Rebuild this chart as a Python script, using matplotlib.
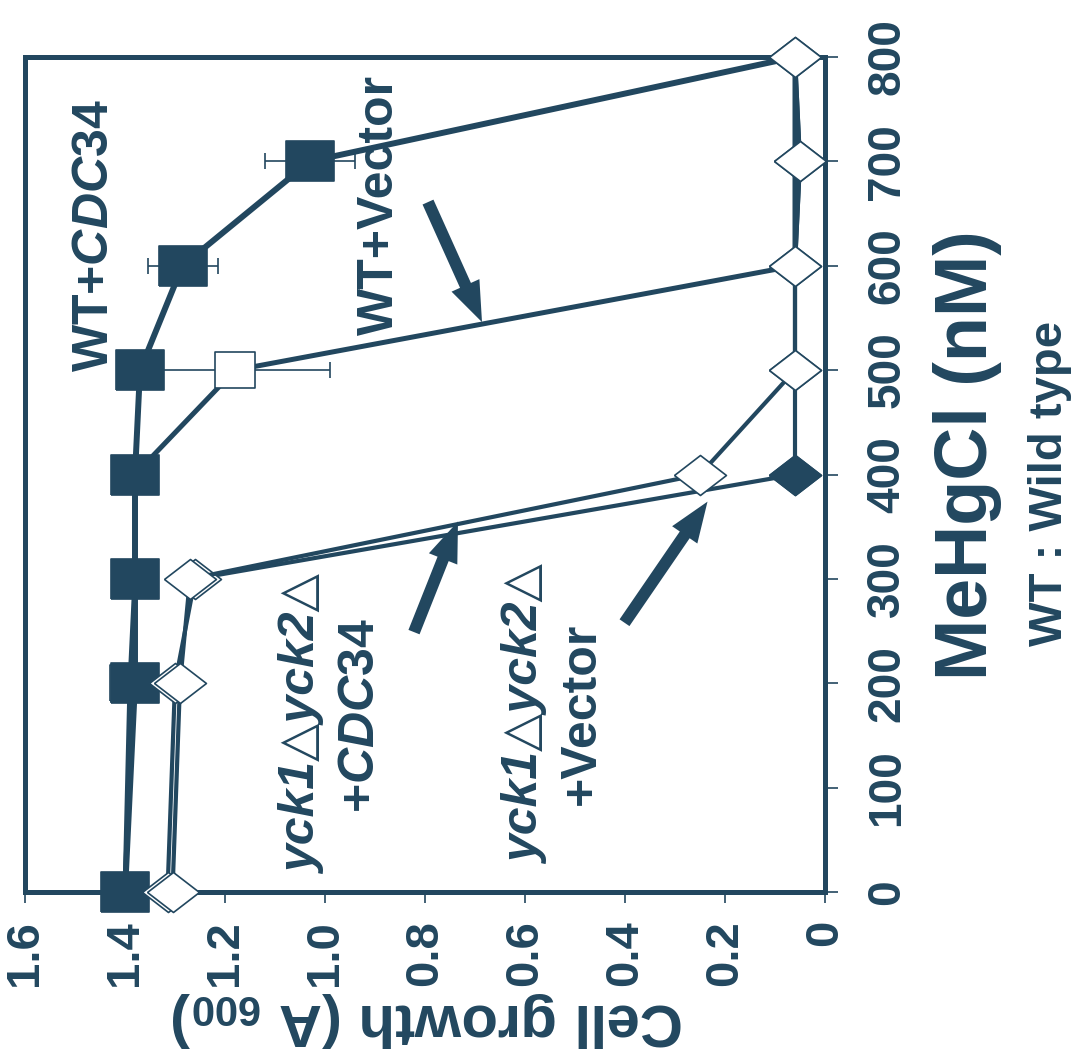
import matplotlib
matplotlib.use('Agg')
import matplotlib.pyplot as plt

NAVY = '#22475f'
SANS = ['Liberation Sans', 'DejaVu Sans']

plt.rcParams['font.family'] = SANS
plt.rcParams['mathtext.fontset'] = 'custom'
plt.rcParams['mathtext.rm'] = 'Liberation Sans:bold'
plt.rcParams['mathtext.bf'] = 'Liberation Sans:bold'
plt.rcParams['mathtext.it'] = 'Liberation Sans:italic:bold'

# data (MeHgCl nM vs cell growth A600)
conc = [0, 200, 300, 400, 500, 600, 700, 800]
wt_cdc34 = [1.40, 1.38, 1.38, 1.38, 1.37, 1.285, 1.03, 0.06]
wt_cdc34_err = [0, 0, 0, 0, 0, 0.07, 0.09, 0]
wt_vector = [1.40, 1.39, 1.38, 1.38, 1.18, 0.06, 0.06, 0.06]
wt_vector_err = [0, 0, 0, 0, 0.19, 0, 0, 0]
yck_vector = [1.315, 1.30, 1.26, 0.06, 0.06, 0.06, 0.05, 0.06]
yck_cdc34 = [1.305, 1.29, 1.27, 0.25, 0.06, 0.06, 0.05, 0.06]

growth_ticks = [1.6, 1.4, 1.2, 1.0, 0.8, 0.6, 0.4, 0.2, 0]
growth_labels = ['1.6', '1.4', '1.2', '1.0', '0.8', '0.6', '0.4', '0.2', '0']
conc_ticks = [0, 100, 200, 300, 400, 500, 600, 700, 800]

# marker shapes (picture is slightly squashed)
rect_big = [(-1, -0.85), (1, -0.85), (1, 0.85), (-1, 0.85), (-1, -0.85)]
rect_small = [(-1, -0.92), (1, -0.92), (1, 0.92), (-1, 0.92), (-1, -0.92)]
diamond = [(-1, 0), (0, -0.77), (1, 0), (0, 0.77), (-1, 0)]

fig = plt.figure(figsize=(10.81, 10.52), dpi=100)
ax = fig.add_axes([25 / 1081, 160 / 1052, 800 / 1081, 835 / 1052])

# chart is drawn turned 90 degrees: growth runs right-to-left, dose bottom-to-top
ax.set_xlim(1.6, 0)
ax.set_ylim(0, 800)

# WT + Vector (open squares), dead points carry no marker
ax.errorbar(wt_vector, conc, xerr=wt_vector_err, fmt='none', ecolor=NAVY,
            elinewidth=1.2, capsize=5.5, capthick=1.2, zorder=3, clip_on=False)
ax.plot(wt_vector, conc, color=NAVY, lw=3.6, marker=rect_small, ms=28.8,
        markevery=[0, 1, 2, 3, 4],
        mfc='white', mec=NAVY, mew=1.2, zorder=3, clip_on=False)

# WT + CDC34 (filled squares)
ax.errorbar(wt_cdc34, conc, xerr=wt_cdc34_err, fmt='none', ecolor=NAVY,
            elinewidth=1.2, capsize=5.5, capthick=1.2, zorder=3, clip_on=False)
ax.plot(wt_cdc34, conc, color=NAVY, lw=4.3, marker=rect_big, ms=34.6,
        markevery=[0, 1, 2, 3, 4, 5, 6],
        mfc=NAVY, mec=NAVY, mew=1.2, zorder=3, clip_on=False)

# yck1/yck2 + Vector
ax.plot(yck_vector, conc, color=NAVY, lw=3.0, marker=diamond, ms=37.4,
        mfc='white', mec=NAVY, mew=1.2, zorder=4, clip_on=False)
ax.plot(yck_vector, conc, linestyle='none', marker=diamond, ms=37.4,
        markevery=[3], mfc=NAVY, mec=NAVY, mew=1.2, zorder=4, clip_on=False)

# yck1/yck2 + CDC34
ax.plot(yck_cdc34, conc, color=NAVY, lw=3.0, marker=diamond, ms=37.4,
        mfc='white', mec=NAVY, mew=1.2, zorder=4, clip_on=False)

for s in ax.spines.values():
    s.set_linewidth(3.6)
    s.set_color(NAVY)

ax.set_xticks(growth_ticks)
ax.set_xticklabels(growth_labels, rotation=90, fontsize=34, fontweight='bold',
                   color=NAVY)
ax.yaxis.tick_right()
ax.set_yticks(conc_ticks)
ax.set_yticklabels([str(c) for c in conc_ticks], rotation=90, va='center',
                   fontsize=33, fontweight='bold', color=NAVY)
ax.tick_params(axis='x', direction='out', length=8, width=1.2, color=NAVY, pad=12)
ax.tick_params(axis='y', direction='out', length=9, width=1.2, color=NAVY, pad=20)

# labels on the curves
ax.text(1.46, 629, r'WT+$\mathit{CDC34}$', rotation=90, ha='center', va='center',
        fontsize=36, fontweight='bold', color=NAVY)
ax.text(0.89, 658, 'WT+Vector', rotation=90, ha='center', va='center',
        fontsize=36, fontweight='bold', color=NAVY)
ax.text(1.043, 160, 'yck1\u25b3yck2\u25b3', rotation=90, ha='center', va='center',
        fontsize=36, fontweight='bold', style='italic', family=SANS, color=NAVY)
ax.text(0.928, 169, r'+$\mathit{CDC34}$', rotation=90, ha='center', va='center',
        fontsize=36, fontweight='bold', color=NAVY)
ax.text(0.597, 170, 'yck1\u25b3yck2\u25b3', rotation=90, ha='center', va='center',
        fontsize=36, fontweight='bold', style='italic', family=SANS, color=NAVY)
ax.text(0.487, 171, '+Vector', rotation=90, ha='center', va='center',
        fontsize=36, fontweight='bold', color=NAVY)

arrow = dict(width=8.6, headwidth=22, headlength=29, shrink=0, color=NAVY, lw=0)
ax.annotate('', xy=(0.686, 546), xytext=(0.794, 661), arrowprops=arrow)
ax.annotate('', xy=(0.734, 355), xytext=(0.822, 249), arrowprops=arrow)
ax.annotate('', xy=(0.235, 374), xytext=(0.401, 258), arrowprops=arrow)

# axis titles
fig.text(428 / 1081, 1 - 1020 / 1052, r'Cell growth (A $_{600}$)', rotation=180,
         ha='center', va='center', fontsize=43, fontweight='bold', color=NAVY)
fig.text(968 / 1081, 1 - 455 / 1052, 'MeHgCl (nM)', rotation=90, ha='center',
         va='center', fontsize=53, fontweight='bold', color=NAVY)
fig.text(1050 / 1081, 1 - 483 / 1052, 'WT : Wild type', rotation=90, ha='center',
         va='center', fontsize=34, fontweight='bold', color=NAVY)

fig.savefig('out.png', dpi=100, facecolor='white')
